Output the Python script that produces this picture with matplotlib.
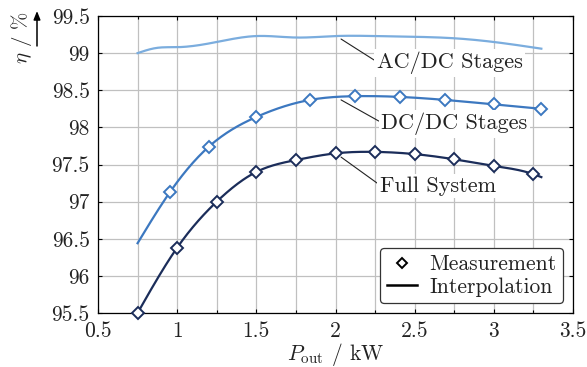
import numpy as np
import matplotlib
matplotlib.use("Agg")
import matplotlib.pyplot as plt
from matplotlib.lines import Line2D

plt.rcParams['font.family'] = 'serif'
plt.rcParams['font.serif'] = ['cmr10']
plt.rcParams['mathtext.fontset'] = 'cm'
plt.rcParams['axes.formatter.use_mathtext'] = True

# measurements (markers)
p_dcdc = [0.955, 1.20, 1.50, 1.84, 2.12, 2.41, 2.69, 3.00, 3.30]
eta_dcdc = [97.13, 97.74, 98.14, 98.37, 98.42, 98.41, 98.37, 98.31, 98.25]
p_full = [0.75, 1.0, 1.25, 1.5, 1.75, 2.0, 2.25, 2.5, 2.75, 3.0, 3.25]
eta_full = [95.50, 96.38, 97.00, 97.40, 97.56, 97.65, 97.67, 97.64, 97.57, 97.48, 97.37]

# interpolation curves (knots)
curve_acdc_p = [0.75, 0.87, 1.0, 1.25, 1.5, 1.75, 2.0, 2.25, 2.5, 2.75, 3.0, 3.3]
curve_acdc_eta = [99.00, 99.07, 99.08, 99.15, 99.23, 99.21, 99.23, 99.23, 99.22, 99.20, 99.15, 99.06]
curve_dcdc_p = [0.75] + p_dcdc
curve_dcdc_eta = [96.44] + eta_dcdc
curve_full_p = p_full + [3.30]
curve_full_eta = eta_full + [97.33]

c_acdc = '#7badde'
c_dcdc = '#3c78c0'
c_full = '#1b2d5a'


def spline(x, y, n=300):
    x = np.asarray(x, float)
    y = np.asarray(y, float)
    k = len(x)
    h = np.diff(x)
    A = np.zeros((k, k))
    b = np.zeros(k)
    A[0, 0] = A[-1, -1] = 1
    for i in range(1, k - 1):
        A[i, i - 1] = h[i - 1]
        A[i, i] = 2 * (h[i - 1] + h[i])
        A[i, i + 1] = h[i]
        b[i] = 3 * ((y[i + 1] - y[i]) / h[i] - (y[i] - y[i - 1]) / h[i - 1])
    c = np.linalg.solve(A, b)
    xs = np.linspace(x[0], x[-1], n)
    idx = np.clip(np.searchsorted(x, xs) - 1, 0, k - 2)
    dx = xs - x[idx]
    bb = (y[idx + 1] - y[idx]) / h[idx] - h[idx] * (2 * c[idx] + c[idx + 1]) / 3
    dd = (c[idx + 1] - c[idx]) / (3 * h[idx])
    return xs, y[idx] + bb * dx + c[idx] * dx ** 2 + dd * dx ** 3


fig = plt.figure(figsize=(5.87, 3.67), dpi=100)
ax = fig.add_axes([98 / 587, 1 - 313 / 367, 475 / 587, 297 / 367])

for px, py, col in [(curve_acdc_p, curve_acdc_eta, c_acdc),
                    (curve_dcdc_p, curve_dcdc_eta, c_dcdc),
                    (curve_full_p, curve_full_eta, c_full)]:
    xs, ys = spline(px, py)
    ax.plot(xs, ys, color=col, lw=1.6, zorder=3)

mk = dict(marker='D', ms=6, mfc='white', mew=1.4, ls='none', zorder=4, clip_on=False)
ax.plot(p_dcdc, eta_dcdc, mec=c_dcdc, **mk)
ax.plot(p_full, eta_full, mec=c_full, **mk)

ax.set_xlim(0.5, 3.5)
ax.set_ylim(95.5, 99.5)
ax.set_xticks(np.arange(0.5, 3.51, 0.5))
ax.set_xticks(np.arange(0.5, 3.51, 0.25), minor=True)
ax.set_yticks(np.arange(95.5, 99.51, 0.5))
ax.set_xticklabels(['0.5', '1', '1.5', '2', '2.5', '3', '3.5'])
ax.set_yticklabels(['95.5', '96', '96.5', '97', '97.5', '98', '98.5', '99', '99.5'])
ax.grid(True, which='both', color='#c0c0c0', lw=0.9)
ax.set_axisbelow(True)
ax.tick_params(which='both', direction='in', top=True, right=True, labelsize=15.5,
               length=3, width=0.8, pad=6, labelcolor='#222222')
ax.tick_params(which='minor', length=2)
for s in ax.spines.values():
    s.set_linewidth(0.9)

ax.set_xlabel(r'$P_{\mathrm{out}}$ / kW', fontsize=15.5, labelpad=0, color='#222222')
fig.text(22 / 587, 1 - 38 / 367, r'$\eta$ / %', rotation=90, fontsize=15,
         ha='center', va='center', color='#222222')
ax.annotate('', xy=(37 / 587, 1 - 11 / 367), xytext=(37 / 587, 1 - 46 / 367),
            xycoords='figure fraction', textcoords='figure fraction',
            arrowprops=dict(arrowstyle='-|>,head_length=0.5,head_width=0.2',
                            color='black', lw=1.1, shrinkA=0, shrinkB=0))

box = dict(boxstyle='square,pad=0.12', fc='white', ec='none')
for txt, xy, xyt in [('AC/DC Stages', (2.035, 99.19), (2.26, 98.87)),
                     ('DC/DC Stages', (2.035, 98.37), (2.29, 98.05)),
                     ('Full System', (2.035, 97.60), (2.28, 97.21))]:
    ax.annotate(txt, xy=xy, xytext=xyt, fontsize=16, color='#222222',
                ha='left', va='center', bbox=box, zorder=5,
                arrowprops=dict(arrowstyle='-', color='#222222', lw=0.8,
                                shrinkA=0, shrinkB=0, relpos=(0, 0.55)))

handles = [Line2D([], [], marker='D', ms=5.5, mfc='white', mec='black', mew=1.4, ls='none'),
           Line2D([], [], color='black', lw=1.8)]
leg = ax.legend(handles, ['Measurement', 'Interpolation'], loc='lower right',
                fontsize=15.5, fancybox=True, framealpha=1, edgecolor='#333333',
                handlelength=1.4, borderaxespad=0.45, labelspacing=0.15,
                handletextpad=0.6, borderpad=0.3)
leg.get_frame().set_linewidth(0.9)
for t in leg.get_texts():
    t.set_color('#222222')
leg.set_zorder(6)

fig.savefig('out.png', dpi=100)
